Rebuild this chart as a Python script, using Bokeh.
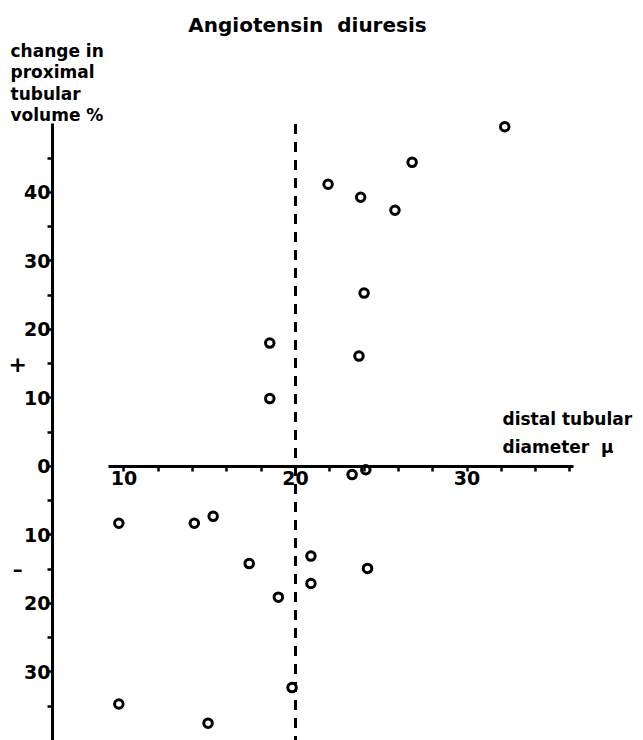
from bokeh.plotting import figure
from bokeh.models import Range1d, FixedTicker, CustomJSTickFormatter, Label
from bokeh.embed import file_html
from bokeh.resources import INLINE

# Distal tubular diameter (µ) and change in proximal tubular volume (%)
diameter = [32.2, 26.8, 21.9, 23.8, 25.8, 24.0, 18.5, 23.7, 18.5, 23.3, 24.1,
            9.7, 14.1, 15.2, 17.3, 20.9, 24.2, 20.9, 19.0, 19.8, 9.7, 14.9]
volume_change = [49.6, 44.4, 41.2, 39.3, 37.4, 25.3, 18.0, 16.1, 9.9, -1.2, -0.5,
                 -8.3, -8.3, -7.3, -14.2, -13.1, -14.9, -17.1, -19.1, -32.3, -34.7, -37.5]

x_major = [10, 20, 30]
x_minor = [12, 14, 16, 18, 22, 24, 26, 28, 32, 34, 36]
y_major = [-30, -20, -10, 0, 10, 20, 30, 40]
y_minor = [-35, -25, -15, -5, 5, 15, 25, 35, 45]

threshold = 20          # dashed reference diameter
y_axis_at = 5.83        # where the volume axis crosses the diameter scale
x_extent = (9.1, 36.2)
y_extent = (-40, 50)

FONT = "DejaVu Sans"
NBSP = "\u00a0"

p = figure(width=643, height=740, output_backend="svg", toolbar_location=None,
           x_range=Range1d(2.80, 40.29), y_range=Range1d(-40.03, 68.03),
           min_border=0, outline_line_color=None)
p.grid.visible = False
p.background_fill_color = "white"
p.border_fill_color = "white"

# horizontal axis through zero
xa = p.xaxis[0]
xa.fixed_location = 0
xa.bounds = x_extent
xa.ticker = FixedTicker(ticks=x_major, minor_ticks=x_minor)
xa.axis_line_width = 3
xa.axis_line_color = "black"
xa.major_tick_in = 0
xa.major_tick_out = 5
xa.minor_tick_in = 0
xa.minor_tick_out = 5
xa.major_tick_line_width = 2.5
xa.minor_tick_line_width = 2.5
xa.major_label_standoff = 0
xa.major_label_text_font = FONT
xa.major_label_text_font_style = "bold"
xa.major_label_text_font_size = "19px"
xa.major_label_text_color = "black"

# vertical axis, labels shown as magnitudes with +/- marks beside
ya = p.yaxis[0]
ya.fixed_location = y_axis_at
ya.bounds = y_extent
ya.ticker = FixedTicker(ticks=y_major, minor_ticks=y_minor)
ya.formatter = CustomJSTickFormatter(code="return Math.abs(tick).toFixed(0)")
ya.axis_line_width = 3
ya.axis_line_color = "black"
ya.major_tick_in = 0
ya.major_tick_out = 5
ya.minor_tick_in = 0
ya.minor_tick_out = 5
ya.major_tick_line_width = 2.5
ya.minor_tick_line_width = 2.5
ya.major_label_standoff = -3
ya.major_label_text_font = FONT
ya.major_label_text_font_style = "bold"
ya.major_label_text_font_size = "19px"
ya.major_label_text_color = "black"

# dashed reference line
p.segment(x0=[threshold], y0=[y_extent[1]], x1=[threshold], y1=[y_extent[0]],
          line_color="black", line_width=3, line_dash="10 8")

# observations
p.scatter(diameter, volume_change, marker="circle", size=8.5,
          fill_color="white", line_color="black", line_width=3)

# sign marks next to the vertical axis
p.add_layout(Label(x=3.8, y=15, text="+", text_font=FONT, text_font_style="bold",
                   text_font_size="22px", text_align="center", text_baseline="middle",
                   text_color="black"))
p.add_layout(Label(x=3.8, y=-15, text="\u2013", text_font=FONT, text_font_style="bold",
                   text_font_size="20px", text_align="center", text_baseline="middle",
                   text_color="black"))

# titles
p.add_layout(Label(x=307, y=740 - 12, x_units="screen", y_units="screen",
                   text="Angiotensin" + NBSP * 2 + "diuresis", text_font=FONT,
                   text_font_style="bold", text_font_size="20px", text_align="center",
                   text_baseline="top", text_color="black"))
p.add_layout(Label(x=10, y=740 - 40, x_units="screen", y_units="screen",
                   text="change in\nproximal\ntubular\nvolume %", text_font=FONT,
                   text_font_style="bold", text_font_size="17px", text_line_height=1.08,
                   text_align="left", text_baseline="top", text_color="black"))
p.add_layout(Label(x=502, y=740 - 408, x_units="screen", y_units="screen",
                   text="distal tubular\ndiameter" + NBSP * 2 + "\u03bc", text_font=FONT,
                   text_font_style="bold", text_font_size="17px", text_line_height=1.4,
                   text_align="left", text_baseline="top", text_color="black"))

open("out.html", "w").write(file_html(p, INLINE))
